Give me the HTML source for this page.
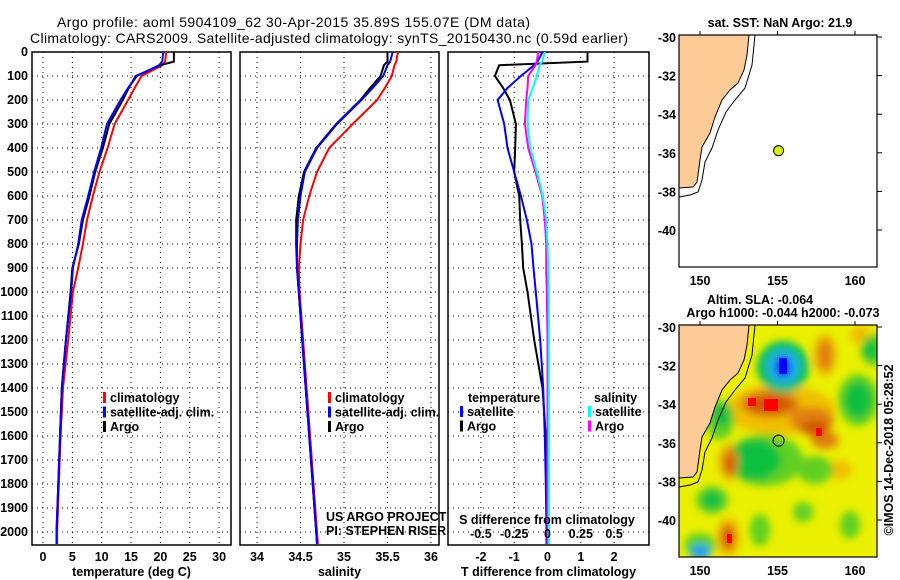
<!DOCTYPE html>
<html><head><meta charset="utf-8">
<style>
html,body{margin:0;padding:0;background:#fff;}
svg{display:block;font-family:"Liberation Sans",sans-serif;}
.b{font-weight:bold;font-size:12.5px;}
</style></head>
<body>
<svg id="chart" width="900" height="580" viewBox="0 0 900 580" xmlns="http://www.w3.org/2000/svg">
<defs>
<clipPath id="mapclip2"><rect x="679" y="325" width="198" height="232"/></clipPath>
<filter id="blur" x="-50%" y="-50%" width="200%" height="200%"><feGaussianBlur stdDeviation="4"/></filter>
</defs>
<text x="57" y="27" font-size="14" textLength="473">Argo profile: aoml 5904109_62 30-Apr-2015 35.89S 155.07E (DM data)</text>
<text x="30" y="43" font-size="14" textLength="598">Climatology: CARS2009. Satellite-adjusted climatology: synTS_20150430.nc (0.59d earlier)</text>
<g id="plots"></g>
</svg>
<script>
// ---- data ----
const depths = [0,40,55,100,150,200,300,400,500,600,700,800,900,1000,1200,1400,1600,1800,2000,2050];
const tempClim = [21.0,20.8,20.3,16.8,15.6,14.5,12.2,11.0,9.6,8.5,7.5,6.8,6.0,5.1,4.3,3.4,3.0,2.7,2.4,2.4];
const tempSat  = [20.5,20.3,19.8,16.0,14.5,13.2,10.9,9.9,8.7,7.7,6.6,6.0,5.1,4.8,3.9,3.2,2.9,2.6,2.3,2.3];
const tempArgo = [22.3,22.3,20.0,15.8,14.6,13.6,11.3,10.2,8.9,7.9,6.8,6.1,5.0,4.7,3.9,3.2,2.9,2.6,2.3,2.3];
const salClim = [35.62,35.60,35.58,35.55,35.47,35.38,35.10,34.83,34.69,34.60,34.53,34.50,34.48,34.49,34.53,34.57,34.61,34.65,34.69,34.70];
const salSat  = [35.56,35.53,35.50,35.45,35.33,35.20,34.92,34.69,34.55,34.50,34.47,34.46,34.46,34.48,34.52,34.56,34.60,34.64,34.68,34.69];
const salArgo = [35.50,35.50,35.46,35.42,35.30,35.19,34.91,34.68,34.54,34.48,34.45,34.45,34.46,34.48,34.52,34.56,34.60,34.64,34.68,34.69];
const dTArgo = [1.2,1.2,-1.45,-1.58,-1.33,-1.13,-0.95,-0.97,-1.0,-0.85,-0.82,-0.77,-0.73,-0.6,-0.4,-0.15,-0.05,-0.03,0.0,0.0];
const dTSat  = [-0.15,-0.3,-0.4,-0.8,-1.2,-1.5,-1.3,-1.2,-1.0,-0.8,-0.62,-0.48,-0.42,-0.35,-0.22,-0.13,-0.08,-0.05,-0.03,-0.03];
const dSSat  = [-0.02,-0.04,-0.06,-0.08,-0.11,-0.145,-0.15,-0.13,-0.08,-0.035,-0.01,0.0,0.005,0.01,0.01,0.01,0.01,0.01,0.01,0.01];
const dSArgo = [-0.07,-0.08,-0.09,-0.145,-0.15,-0.16,-0.17,-0.145,-0.09,-0.04,-0.02,-0.01,-0.01,-0.005,0.0,0.0,0.0,0.0,0.0,0.0];
const depthTicks = [0,100,200,300,400,500,600,700,800,900,1000,1100,1200,1300,1400,1500,1600,1700,1800,1900,2000];
const tempTicks = [0,5,10,15,20,25,30];
const salTicks = [34,34.5,35,35.5,36];
const dTTicks = [-2,-1,0,1,2];
const dSTicks = [-0.5,-0.25,0,0.25,0.5];
const dSLabels = ["-0.5","-0.25","0","0.25","0.5"];
const latTicks = [-30,-32,-34,-36,-38,-40];
const lonTicks = [150,155,160];
const floatLon = 155.07, floatLat = -35.89;

// ---- scales ----
const yD = d => 52 + d*0.24;
const xT = t => 43 + t*5.87;
const xS = s => 257 + (s-34)*87;
const xDT = v => 547.5 + v*33.3;
const xDS = v => 547.5 + v*4*33.3;
const mapX = lon => 700 + (lon-150)*15.5;
const mapY = (lat,top) => top + 2 + (-30-lat)*19.3;

const NS="http://www.w3.org/2000/svg";
const root=document.getElementById('plots');
function mk(tag,attrs,parent){const e=document.createElementNS(NS,tag);for(const k in attrs)e.setAttribute(k,attrs[k]);(parent||root).appendChild(e);return e;}
function txt(x,y,s,anchor,cls,parent){const e=mk('text',{x:x,y:y,'text-anchor':anchor||'start','class':cls||'b'},parent);e.textContent=s;return e;}

function panel(name,x0,x1,xs,xticks,xlabels,xtitle,showY){
  const g=mk('g',{});
  
  
  depthTicks.forEach(d=>{const l=mk('line',{x1:x0,x2:x1,y1:yD(d),y2:yD(d),stroke:'#000','stroke-width':1,'stroke-dasharray':'1,4'},g);});
  xticks.forEach(v=>{const l=mk('line',{x1:xs(v),x2:xs(v),y1:52,y2:545,stroke:'#000','stroke-width':1,'stroke-dasharray':'1,4'},g);});
  const f=mk('rect',{x:x0,y:52,width:x1-x0,height:493,fill:'none',stroke:'#000','stroke-width':1.5},g);
  
  
  xticks.forEach((v,i)=>{const t=txt(xs(v),561,xlabels[i],'middle','b',g);});
  const tt=txt((x0+x1)/2,576,xtitle,'middle','b',g);
  
  
  if(showY){depthTicks.forEach(d=>{const t=txt(28,yD(d)+4,String(d),'end','b',g);});}
  return g;
}
function series(g,name,vals,xs,color,w){
  let p='';
  for(let i=0;i<depths.length;i++){p+=(i?'L':'M')+xs(vals[i]).toFixed(1)+','+yD(depths[i]).toFixed(1);}
  const e=mk('path',{d:p,fill:'none',stroke:color,'stroke-width':w||2},g);
  
  
}
function legend(g,x,y,items){
  items.forEach((it,i)=>{
    const r=mk('rect',{x:x,y:y+i*14.5-10,width:3,height:11,fill:it[1]},g);
    
    
    const t=txt(x+7,y+i*14.5,it[0],'start','b',g);
    
    
  });
}

const g1=panel('temperature-panel',32,231,xT,tempTicks,tempTicks.map(String),'temperature (deg C)',true);
series(g1,'temp-climatology-line',tempClim,xT,'#ff0000');
series(g1,'temp-argo-line',tempArgo,xT,'#000000');
series(g1,'temp-satellite-line',tempSat,xT,'#0000ff');
legend(g1,103,402,[['climatology','#ff0000'],['satellite-adj. clim.','#0000ff'],['Argo','#000']]);

const g2=panel('salinity-panel',240,439,xS,salTicks,salTicks.map(String),'salinity',false);
series(g2,'sal-climatology-line',salClim,xS,'#ff0000');
series(g2,'sal-argo-line',salArgo,xS,'#000000');
series(g2,'sal-satellite-line',salSat,xS,'#0000ff');
legend(g2,328,402,[['climatology','#ff0000'],['satellite-adj. clim.','#0000ff'],['Argo','#000']]);
const c1=txt(326,521,'US ARGO PROJECT','start','',g2);c1.setAttribute('font-size','12');


const c2=txt(326,535,'PI: STEPHEN RISER','start','',g2);c2.setAttribute('font-size','12');



const g3=panel('difference-panel',448,649,xDT,dTTicks,dTTicks.map(String),'T difference from climatology',false);
series(g3,'dt-argo-line',dTArgo,xDT,'#000000');
series(g3,'dt-satellite-line',dTSat,xDT,'#0000ff');
series(g3,'ds-argo-line',dSArgo,xDS,'#ff00ff');
series(g3,'ds-satellite-line',dSSat,xDS,'#00ffff');
const lt=txt(468,402,'temperature','start','b',g3);


legend(g3,460,416,[['satellite','#0000ff'],['Argo','#000']]);
const ls=txt(594,402,'salinity','start','b',g3);


legend(g3,588,416,[['satellite','#00ffff'],['Argo','#ff00ff']]);
const st=txt(547,524,'S difference from climatology','middle','b',g3);


dSTicks.forEach((v,i)=>{const t=txt(xDS(v),538,dSLabels[i],'middle','b',g3);});

// ---- maps ----
function coast(top){
  const pts=[[679,35],[749,35],[747,55],[744,70],[738,83],[730,90],[722,100],[715,117],[710,133],[702,147],[700,160],[697,182],[693,187],[679,188]];
  return pts.map(p=>p[0]+','+(p[1]+top-35)).join(' ');
}
function coast2(top){
  const pts=[[755,35],[752,65],[745,88],[735,100],[726,112],[718,130],[712,148],[705,162],[702,180],[698,192],[690,195],[679,197]];
  return pts.map(p=>p[0]+','+(p[1]+top-35)).join(' ');
}
function mapFrame(name,top,heat){
  const g=mk('g',{});
  
  
  const bg=mk('rect',{x:679,y:top,width:198,height:232,fill:heat?'#eaf000':'#fff'},g);
  
  
  if(heat){
    const h=mk('g',{'clip-path':'url(#mapclip2)'},g);
    
    
    const bl=mk('g',{filter:'url(#blur)'},h);
    const blobs=[
      ['#f0c000',[[780,410,55,25],[825,355,12,22],[730,462,12,20],[728,537,12,20],[700,330,14,14],[860,335,10,10],[840,470,12,10]]],
      ['#60d020',[[765,460,38,26],[720,420,14,20],[858,400,20,26],[712,500,16,14],[875,350,14,16],[760,530,10,16],[803,512,10,10],[850,525,10,14],[815,470,18,14],[700,545,16,12]]],
      ['#10c040',[[755,460,26,20],[722,415,9,12],[858,400,14,18],[712,500,10,9],[870,350,8,10]]],
      ['#e08010',[[770,404,30,14],[812,420,22,13],[825,440,14,9],[825,355,8,16],[730,462,8,14],[728,537,8,14]]],
      ['#d05800',[[770,404,22,9],[815,428,14,8],[728,537,5,10],[730,465,4,9]]],
      ['#00c060',[[783,367,26,26]]],
      ['#20b0e0',[[783,367,17,18]]],
      ['#0030ff',[[783,367,8,10]]],
      ['#20a0f0',[[700,552,10,8]]]
    ];
    blobs.forEach(grp=>grp[1].forEach(b=>{const e=mk('ellipse',{cx:b[0],cy:b[1],rx:b[2],ry:b[3],fill:grp[0]},bl);}));
    [[748,398,8,8],[764,399,14,12],[816,428,6,8],[727,534,5,9]].forEach(r=>{const e=mk('rect',{x:r[0],y:r[1],width:r[2],height:r[3],fill:'#ff0000'},h);});
    const ey=mk('rect',{x:779,y:358,width:8,height:16,fill:'#0000ff'},h);
    
    
  }
  const land=mk('polygon',{points:coast(top),fill:'#fdcb96',stroke:'#000','stroke-width':1},g);
  
  
  const iso=mk('polyline',{points:coast2(top),fill:'none',stroke:'#000','stroke-width':1},g);
  
  
  const fr=mk('rect',{x:679,y:top,width:198,height:232,fill:'none',stroke:'#000','stroke-width':1.2},g);
  
  
  latTicks.forEach(l=>{const t=txt(676,mapY(l,top)+5,String(l),'end','b',g);
    const k=mk('line',{x1:877,x2:882,y1:mapY(l,top),y2:mapY(l,top),stroke:'#000'},g);});
  lonTicks.forEach(l=>{const t=txt(mapX(l),top+250,String(l),'middle','b',g);
    const k=mk('line',{x1:mapX(l),x2:mapX(l),y1:top-4,y2:top,stroke:'#000'},g);});
  const fl=mk('circle',{cx:mapX(floatLon),cy:mapY(floatLat,top),r:heat?5.5:5,fill:heat?'none':'#d8f000',stroke:'#000','stroke-width':1},g);
  
  
  return g;
}
mapFrame('sst-map',35,false);
mapFrame('sla-map',325,true);
const m1=txt(780,27,'sat. SST: NaN Argo: 21.9','middle','b');


const m2=txt(760,304,'Altim. SLA: -0.064','middle','b');


const m3=txt(783,317,'Argo h1000: -0.044 h2000: -0.073','middle','b');


const ts=txt(0,0,'©IMOS 14-Dec-2018 05:28:52','middle','');
ts.setAttribute('font-size','13');
ts.setAttribute('transform','translate(893,450) rotate(-90)');


</script>
</body></html>
